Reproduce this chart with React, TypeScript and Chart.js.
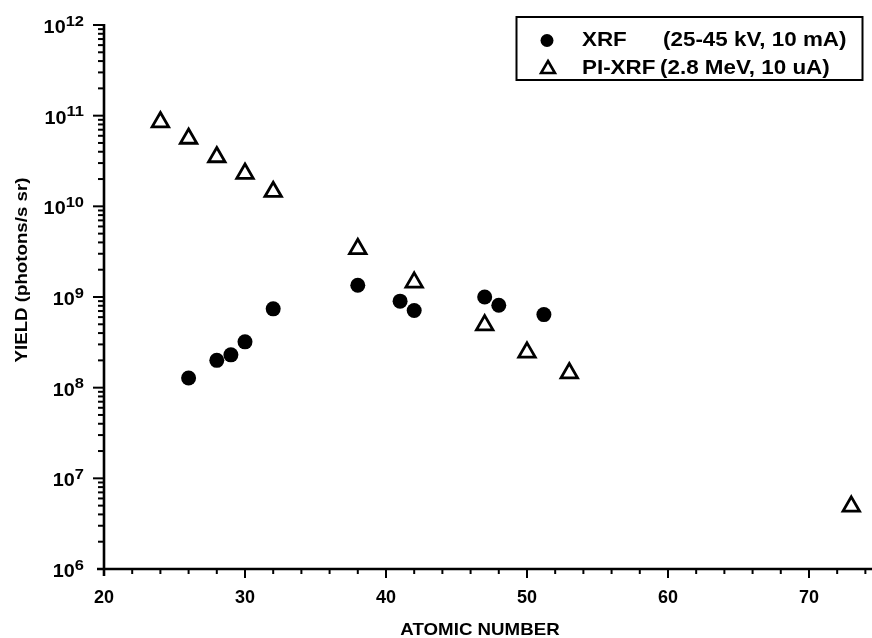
import React, { useEffect, useRef } from 'react';
import { Chart, registerables } from 'chart.js';

Chart.register(...registerables);

// ---- data ----
const xrfZ = [26, 28, 29, 30, 32, 38, 41, 42, 47, 48, 51.2];
const xrfYield = [1.28e8, 2.0e8, 2.3e8, 3.2e8, 7.4e8, 1.35e9, 9.0e8, 7.1e8, 1.0e9, 8.1e8, 6.4e8];
const piZ = [24, 26, 28, 30, 32, 38, 42, 47, 50, 53, 73];
const piYield = [8.5e10, 5.6e10, 3.5e10, 2.3e10, 1.45e10, 3.4e9, 1.45e9, 4.9e8, 2.45e8, 1.45e8, 4.9e6];

const xLabelValues = [20, 30, 40, 50, 60, 70];
const yExponents = [6, 7, 8, 9, 10, 11, 12];
const legendNames = ['XRF', 'PI-XRF'];
const legendConditions = ['(25-45 kV, 10 mA)', '(2.8 MeV, 10 uA)'];
const xTitle = 'ATOMIC NUMBER';
const yTitle = 'YIELD (photons/s sr)';

const FONT = "'Liberation Sans', Arial, Helvetica, sans-serif";
const SX = 1.1;

function drawText(
  ctx: CanvasRenderingContext2D,
  text: string,
  x: number,
  y: number,
  size: number,
  align: CanvasTextAlign,
  sx: number = SX,
) {
  ctx.save();
  ctx.translate(x, y);
  ctx.scale(sx, 1);
  ctx.font = `bold ${size}px ${FONT}`;
  ctx.textAlign = align;
  ctx.textBaseline = 'middle';
  ctx.fillStyle = '#000';
  ctx.fillText(text, 0, 0);
  ctx.restore();
}

function textWidth(ctx: CanvasRenderingContext2D, text: string, size: number, sx: number = SX) {
  ctx.save();
  ctx.font = `bold ${size}px ${FONT}`;
  const w = ctx.measureText(text).width * sx;
  ctx.restore();
  return w;
}

function drawMarker(ctx: CanvasRenderingContext2D, style: string, x: number, y: number, r: number, bw: number) {
  ctx.save();
  ctx.beginPath();
  if (style === 'circle') {
    ctx.arc(x, y, r, 0, Math.PI * 2);
    ctx.fillStyle = '#000';
    ctx.fill();
  } else {
    for (let k = 0; k < 3; k++) {
      const a = (k * 2 * Math.PI) / 3;
      const px = x + Math.sin(a) * r;
      const py = y - Math.cos(a) * r;
      if (k === 0) ctx.moveTo(px, py);
      else ctx.lineTo(px, py);
    }
    ctx.closePath();
    ctx.fillStyle = '#fff';
    ctx.fill();
    ctx.lineWidth = bw;
    ctx.strokeStyle = '#000';
    ctx.stroke();
  }
  ctx.restore();
}

const axesPlugin = {
  id: 'customAxes',
  beforeDatasetsDraw(chart: any) {
    const { ctx, chartArea } = chart;
    const xs = chart.scales.x;
    const ys = chart.scales.y;
    const L = chartArea.left;
    const R = chartArea.right;
    const T = chartArea.top;
    const B = chartArea.bottom;
    ctx.save();
    ctx.strokeStyle = '#000';
    ctx.lineCap = 'butt';
    // axis lines
    ctx.lineWidth = 2.6;
    ctx.beginPath();
    ctx.moveTo(L, T - 1);
    ctx.lineTo(L, B + 7);
    ctx.moveTo(L - 7, B);
    ctx.lineTo(R, B);
    ctx.stroke();
    // x ticks
    ctx.lineWidth = 2;
    for (let v = 22; v <= xs.max; v += 2) {
      const px = xs.getPixelForValue(v);
      const len = v % 10 === 0 ? 9 : 5;
      ctx.beginPath();
      ctx.moveTo(px, B);
      ctx.lineTo(px, B + len);
      ctx.stroke();
    }
    // y ticks
    for (let e = 6; e <= 12; e++) {
      for (let m = 1; m <= 9; m++) {
        if (e === 12 && m > 1) break;
        if (e === 6 && m === 1) continue;
        const v = m * Math.pow(10, e);
        const py = ys.getPixelForValue(v);
        const len = m === 1 ? 11 : 6;
        ctx.beginPath();
        ctx.moveTo(L, py);
        ctx.lineTo(L - len, py);
        ctx.stroke();
      }
    }
    // y tick labels: "10" with superscript exponent
    yExponents.forEach((e) => {
      const py = ys.getPixelForValue(Math.pow(10, e));
      const exp = String(e);
      const xEnd = L - 20;
      const ew = textWidth(ctx, exp, 15);
      drawText(ctx, exp, xEnd, py - 3.5, 15, 'right');
      drawText(ctx, '10', xEnd - ew, py + 3, 18, 'right');
    });
    // axis titles
    drawText(ctx, xTitle, 480, 630, 17, 'center');
    ctx.save();
    ctx.translate(22.5, 270);
    ctx.rotate(-Math.PI / 2);
    drawText(ctx, yTitle, 0, 0, 17, 'center');
    ctx.restore();
    ctx.restore();
  },
  afterDraw(chart: any) {
    const { ctx } = chart;
    ctx.save();
    ctx.strokeStyle = '#000';
    ctx.lineWidth = 2;
    ctx.strokeRect(516.5, 17, 346, 63);
    const rows = [40.5, 68];
    drawMarker(ctx, 'circle', 547, rows[0], 6.5, 0);
    drawMarker(ctx, 'triangle', 548, rows[1] + 1, 8, 2.6);
    rows.forEach((y, i) => {
      drawText(ctx, legendNames[i], 582, y, 20, 'left', 1.12);
      drawText(ctx, legendConditions[i], i === 0 ? 663 : 660, y, 20, 'left', 1.12);
    });
    ctx.restore();
  },
};

export default function App() {
  const canvasRef = useRef<HTMLCanvasElement | null>(null);

  useEffect(() => {
    if (!canvasRef.current) return;
    const chart = new Chart(canvasRef.current, {
      type: 'scatter',
      data: {
        datasets: [
          {
            label: legendNames[0],
            data: xrfZ.map((z, i) => ({ x: z, y: xrfYield[i] })),
            pointStyle: 'circle',
            pointRadius: 7.5,
            backgroundColor: '#000',
            borderColor: '#000',
            borderWidth: 0,
            showLine: false,
          },
          {
            label: legendNames[1],
            data: piZ.map((z, i) => ({ x: z, y: piYield[i] })),
            pointStyle: 'triangle',
            pointRadius: 9.5,
            backgroundColor: '#fff',
            borderColor: '#000',
            borderWidth: 2.8,
            showLine: false,
          },
        ],
      },
      options: {
        responsive: false,
        animation: false,
        devicePixelRatio: 1,
        layout: { padding: { top: 25, right: 0, left: 0, bottom: 0 }, autoPadding: false },
        plugins: {
          legend: { display: false },
          tooltip: { enabled: false },
        },
        scales: {
          x: {
            type: 'linear',
            position: 'bottom',
            min: 20,
            max: 74.47,
            grid: { display: false, drawTicks: false },
            border: { display: false },
            ticks: {
              stepSize: 2,
              includeBounds: false,
              autoSkip: false,
              maxRotation: 0,
              padding: 18,
              color: '#000',
              font: { family: FONT, size: 18, weight: 'bold' },
              callback: (v: any) => (xLabelValues.includes(Number(v)) ? String(v) : ''),
            },
            afterFit: (scale: any) => {
              scale.height = 638 - 569;
              scale.paddingLeft = 0;
              scale.paddingRight = 0;
            },
          },
          y: {
            type: 'logarithmic',
            min: 1e6,
            max: 1e12,
            grid: { display: false, drawTicks: false },
            border: { display: false },
            ticks: { display: false },
            afterFit: (scale: any) => {
              scale.width = 104;
              scale.paddingTop = 0;
              scale.paddingBottom = 0;
            },
          },
        },
      },
      plugins: [axesPlugin],
    } as any);
    return () => chart.destroy();
  }, []);

  return (
    <div style={{ position: 'absolute', left: 0, top: 0, width: 872, height: 638, background: '#fff' }}>
      <canvas ref={canvasRef} width={872} height={638} style={{ display: 'block' }} />
    </div>
  );
}
